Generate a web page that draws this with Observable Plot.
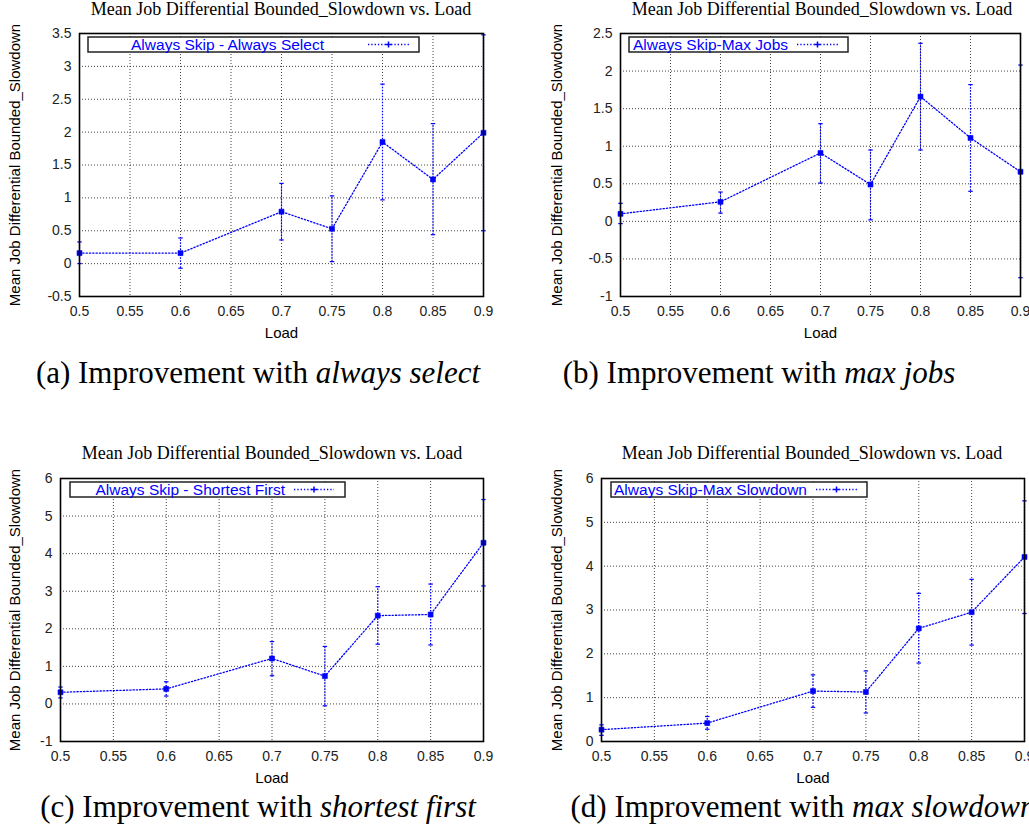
<!DOCTYPE html>
<html>
<head>
<meta charset="utf-8">
<script src="https://cdn.jsdelivr.net/npm/d3@7"></script>
<script src="https://cdn.jsdelivr.net/npm/@observablehq/plot@0.6"></script>
<style>
  html, body { margin: 0; padding: 0; background: white; }
  #page { position: relative; width: 1029px; height: 836px; overflow: hidden; background: white; }
  .panel { position: absolute; }
  #overlay { position: absolute; left: 0; top: 0; pointer-events: none; }
</style>
</head>
<body>
<div id="page">
  <div class="panel" id="pa" style="left:0px;top:0px"></div>
  <div class="panel" id="pb" style="left:510px;top:0px"></div>
  <div class="panel" id="pc" style="left:0px;top:440px"></div>
  <div class="panel" id="pd" style="left:510px;top:440px"></div>
  <svg id="overlay" width="1029" height="836"></svg>
</div>
<script>
// ---------------- DATA ----------------
const loads = [0.5, 0.6, 0.7, 0.75, 0.8, 0.85, 0.9];
const xTicks = [0.5, 0.55, 0.6, 0.65, 0.7, 0.75, 0.8, 0.85, 0.9];

// (a) Always Skip - Always Select
const selectMean = [0.16, 0.16, 0.79, 0.53, 1.85, 1.28, 1.99];
const selectLow  = [0.00, -0.07, 0.36, 0.03, 0.97, 0.44, 0.50];
const selectHigh = [0.33, 0.39, 1.22, 1.03, 2.73, 2.13, 3.48];
const selectYTicks = [-0.5, 0, 0.5, 1, 1.5, 2, 2.5, 3, 3.5];

// (b) Always Skip-Max Jobs
const jobsMean = [0.10, 0.26, 0.91, 0.49, 1.66, 1.11, 0.66];
const jobsLow  = [-0.03, 0.11, 0.51, 0.02, 0.95, 0.40, -0.75];
const jobsHigh = [0.24, 0.39, 1.30, 0.95, 2.37, 1.82, 2.08];
const jobsYTicks = [-1, -0.5, 0, 0.5, 1, 1.5, 2, 2.5];

// (c) Always Skip - Shortest First
const shortestMean = [0.31, 0.40, 1.21, 0.74, 2.35, 2.38, 4.29];
const shortestLow  = [0.16, 0.21, 0.75, -0.05, 1.59, 1.57, 3.14];
const shortestHigh = [0.45, 0.59, 1.66, 1.53, 3.12, 3.19, 5.44];
const shortestYTicks = [-1, 0, 1, 2, 3, 4, 5, 6];

// (d) Always Skip-Max Slowdown
const slowMean = [0.27, 0.42, 1.15, 1.13, 2.58, 2.95, 4.21];
const slowLow  = [0.14, 0.28, 0.78, 0.65, 1.79, 2.20, 2.92];
const slowHigh = [0.38, 0.57, 1.52, 1.61, 3.38, 3.70, 5.49];
const slowYTicks = [0, 1, 2, 3, 4, 5, 6];

const chartTitle = "Mean Job Differential Bounded_Slowdown vs. Load";
const yLabel = "Mean Job Differential Bounded_Slowdown";
const xLabel = "Load";
const seriesNames = ["Always Skip - Always Select", "Always Skip-Max Jobs", "Always Skip - Shortest First", "Always Skip-Max Slowdown"];
const captionPrefix = ["(a) Improvement with ", "(b) Improvement with ", "(c) Improvement with ", "(d) Improvement with "];
const captionItalic = ["always select", "max jobs", "shortest first", "max slowdown"];

// ---------------- DRAWING ----------------
const BLUE = "#0000ff";
const capSymbol = {
  draw(ctx, size) {
    const r = Math.sqrt(size) / 2;
    ctx.moveTo(-r, 0); ctx.lineTo(r, 0);
  }
};

function makePanel(cfg) {
  const rows = loads.map((l, i) => ({load: l, mean: cfg.mean[i], lo: cfg.low[i], hi: cfg.high[i]}));
  return Plot.plot({
    width: cfg.width, height: cfg.height,
    marginLeft: cfg.ml, marginRight: cfg.mr, marginTop: cfg.mt, marginBottom: cfg.mb,
    style: {fontFamily: "'Liberation Sans', Arial, Helvetica, sans-serif", fontSize: "14px", color: "black", background: "white", overflow: "visible"},
    x: {domain: [0.5, 0.9], ticks: xTicks},
    y: {domain: cfg.domain, ticks: cfg.yTicks},
    marks: [
      Plot.gridX(xTicks, {stroke: "#222", strokeOpacity: 0.85, strokeDasharray: "1,2"}),
      Plot.gridY(cfg.yTicks, {stroke: "#222", strokeOpacity: 0.85, strokeDasharray: "1,2"}),
      Plot.axisX(xTicks, {anchor: "bottom", tickSize: 0, tickPadding: 10, label: null, tickFormat: d => String(d), fill: "#222"}),
      Plot.axisY(cfg.yTicks, {anchor: "left", tickSize: 0, tickPadding: 8, label: null, tickFormat: d => String(d), fill: "#222"}),
      Plot.text([yLabel], {frameAnchor: "left", textAnchor: "middle", rotate: -90, dx: -cfg.ylabOff, fontSize: 15, text: d => d}),
      Plot.text([xLabel], {frameAnchor: "bottom", textAnchor: "middle", dy: 41, fontSize: 15, text: d => d}),
      Plot.ruleX(rows, {x: "load", y1: "lo", y2: "hi", stroke: BLUE, strokeWidth: 1.2, strokeDasharray: "1.5,1.5"}),
      Plot.dot(rows, {x: "load", y: "lo", symbol: capSymbol, r: 2.5, stroke: BLUE, strokeWidth: 1.2, fill: "none"}),
      Plot.dot(rows, {x: "load", y: "hi", symbol: capSymbol, r: 2.5, stroke: BLUE, strokeWidth: 1.2, fill: "none"}),
      Plot.line(rows, {x: "load", y: "mean", stroke: BLUE, strokeWidth: 1.3, strokeDasharray: "1.3,2"}),
      Plot.dot(rows, {x: "load", y: "mean", symbol: "square", r: 2.8, fill: BLUE, stroke: BLUE, strokeWidth: 0.6}),
      Plot.frame({stroke: "black", strokeWidth: 1.6})
    ]
  });
}

const panels = [
  {id: "pa", mean: selectMean, low: selectLow, high: selectHigh, domain: [-0.5, 3.5], yTicks: selectYTicks,
   width: 510, height: 345, ml: 79, mr: 27, mt: 33, mb: 49, ylabOff: 64},
  {id: "pb", mean: jobsMean, low: jobsLow, high: jobsHigh, domain: [-1, 2.5], yTicks: jobsYTicks,
   width: 519, height: 345, ml: 110, mr: 9, mt: 33, mb: 49, ylabOff: 63},
  {id: "pc", mean: shortestMean, low: shortestLow, high: shortestHigh, domain: [-1, 6], yTicks: shortestYTicks,
   width: 510, height: 350, ml: 60, mr: 27, mt: 38, mb: 49, ylabOff: 45},
  {id: "pd", mean: slowMean, low: slowLow, high: slowHigh, domain: [0, 6], yTicks: slowYTicks,
   width: 519, height: 350, ml: 91, mr: 5, mt: 38, mb: 49, ylabOff: 44}
];
panels.forEach(p => document.getElementById(p.id).appendChild(makePanel(p)));

// ---------------- OVERLAY: titles, legends, captions ----------------
const svg = d3.select("#overlay");
const titles = [{x: 281, y: 15}, {x: 822, y: 15}, {x: 272, y: 459}, {x: 812, y: 459}];
titles.forEach(t => svg.append("text").attr("x", t.x).attr("y", t.y).attr("text-anchor", "middle")
  .attr("font-family", "'Liberation Serif', 'Times New Roman', serif").attr("font-size", 18).text(chartTitle));

const legends = [
  {box: [88, 37, 419, 52], textEnd: 324, s: [368, 409]},
  {box: [629, 37, 848, 52], textEnd: 788, s: [797, 838]},
  {box: [70, 482, 345, 497], textEnd: 285, s: [294, 334]},
  {box: [611, 482, 867, 497], textEnd: 807, s: [816, 857]}
];
legends.forEach((L, i) => {
  const [x0, y0, x1, y1] = L.box;
  const yc = (y0 + y1) / 2;
  svg.append("rect").attr("x", x0).attr("y", y0).attr("width", x1 - x0).attr("height", y1 - y0)
    .attr("fill", "white").attr("stroke", "#222").attr("stroke-width", 1.5);
  svg.append("text").attr("x", L.textEnd).attr("y", yc + 5.5).attr("text-anchor", "end")
    .attr("font-family", "'Liberation Sans', Arial, sans-serif").attr("font-size", 15.5).attr("fill", BLUE).text(seriesNames[i]);
  svg.append("line").attr("x1", L.s[0]).attr("x2", L.s[1]).attr("y1", yc).attr("y2", yc)
    .attr("stroke", BLUE).attr("stroke-width", 1.3).attr("stroke-dasharray", "1.3,2");
  const xm = (L.s[0] + L.s[1]) / 2;
  svg.append("path").attr("d", `M${xm - 3},${yc}H${xm + 3}M${xm},${yc - 3}V${yc + 3}`)
    .attr("stroke", BLUE).attr("stroke-width", 1.5);
});

const captions = [{x: 258, y: 383}, {x: 759, y: 383}, {x: 258, y: 817}, {x: 803, y: 817}];
captions.forEach((c, i) => {
  const t = svg.append("text").attr("x", c.x).attr("y", c.y).attr("text-anchor", "middle")
    .attr("font-family", "'Liberation Serif', 'Times New Roman', serif").attr("font-size", 31);
  t.append("tspan").text(captionPrefix[i]);
  t.append("tspan").attr("font-style", "italic").text(captionItalic[i]);
});
</script>
</body>
</html>
